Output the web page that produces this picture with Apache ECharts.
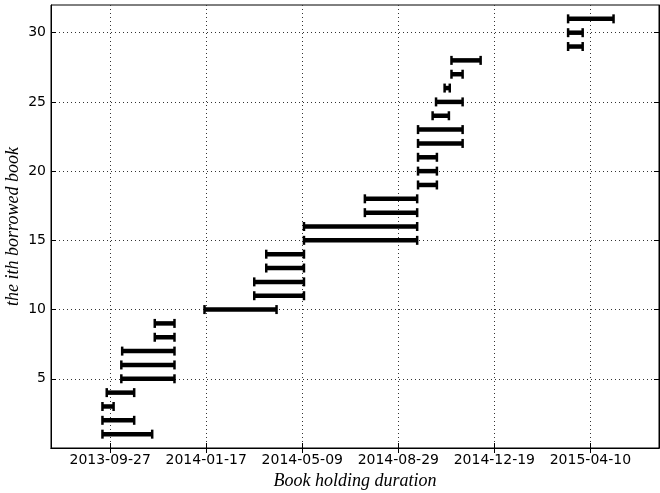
<!DOCTYPE html>
<html>
<head>
<meta charset="utf-8">
<script src="https://cdn.jsdelivr.net/npm/echarts@6/dist/echarts.min.js"></script>
<style>html,body{margin:0;padding:0;background:#fff;}#c{width:660px;height:493px;}</style>
</head>
<body>
<div id="c"></div>
<script>
// Book index (the i-th borrowed book)
const bookIndex = [1,2,3,4,5,6,7,8,9,10,11,12,13,14,15,16,17,18,19,20,21,22,23,24,25,26,27,28,29,30,31];
// Borrow (start) dates
const startDates = [
  '2013-09-18','2013-09-18','2013-09-18','2013-09-23','2013-10-10','2013-10-10','2013-10-11','2013-11-18','2013-11-18','2014-01-15',
  '2014-03-14','2014-03-14','2014-03-28','2014-03-28','2014-05-11','2014-05-11','2014-07-21','2014-07-21','2014-09-21','2014-09-21',
  '2014-09-21','2014-09-21','2014-09-21','2014-10-08','2014-10-12','2014-10-22','2014-10-30','2014-10-30','2015-03-15','2015-03-15',
  '2015-03-15'
];
// Return (end) dates
const endDates = [
  '2013-11-15','2013-10-25','2013-10-01','2013-10-25','2013-12-11','2013-12-11','2013-12-11','2013-12-11','2013-12-11','2014-04-09',
  '2014-05-11','2014-05-11','2014-05-11','2014-05-11','2014-09-20','2014-09-20','2014-09-20','2014-09-20','2014-10-13','2014-10-13',
  '2014-10-13','2014-11-12','2014-11-12','2014-10-27','2014-11-12','2014-10-28','2014-11-12','2014-12-03','2015-04-01','2015-04-01',
  '2015-05-07'
];
// X tick labels
const xTickLabels = ['2013-09-27','2014-01-17','2014-05-09','2014-08-29','2014-12-19','2015-04-10'];
const yTickValues = [5,10,15,20,25,30];
const xMinDate = '2013-07-20';
const xMaxDate = '2015-06-29';

function ts(s){ const p = s.split('-').map(Number); return Date.UTC(p[0], p[1]-1, p[2]); }
function fmt(v){ const d = new Date(v); const m = d.getUTCMonth()+1, dd = d.getUTCDate(); return d.getUTCFullYear()+'-'+(m<10?'0':'')+m+'-'+(dd<10?'0':'')+dd; }

const xTicks = xTickLabels.map(ts);
const data = bookIndex.map((b,i)=>[ts(startDates[i]), ts(endDates[i]), b]);

const chart = echarts.init(document.getElementById('c'), null, {renderer:'canvas'});
const tickFont = {fontFamily:'DejaVu Sans', fontSize:14, color:'#000'};
const gridLine = {show:true, lineStyle:{color:'#333', type:[1,3], width:1}};

chart.setOption({
  animation:false,
  backgroundColor:'#fff',
  grid:{left:51, right:1, top:5, bottom:45, outerBoundsMode:'none', containLabel:false, show:true, borderColor:'#000', borderWidth:1, backgroundColor:'transparent'},
  xAxis:[{
    type:'value', min:ts(xMinDate), max:ts(xMaxDate),
    axisLine:{show:true, lineStyle:{color:'#000', width:1}},
    axisTick:{show:true, inside:true, length:5, customValues:xTicks, lineStyle:{color:'#000'}},
    axisLabel:Object.assign({customValues:xTicks, formatter:(v)=>fmt(v), margin:5}, tickFont),
    splitLine:gridLine,
    name:'Book holding duration', nameLocation:'middle', nameGap:24,
    nameTextStyle:{fontFamily:'Liberation Serif', fontStyle:'italic', fontSize:18, color:'#000'}
  },{
    type:'value', position:'top', min:ts(xMinDate), max:ts(xMaxDate),
    axisLine:{show:true, lineStyle:{color:'#000'}},
    axisTick:{show:true, inside:true, length:5, customValues:xTicks, lineStyle:{color:'#000'}},
    axisLabel:{show:false, customValues:xTicks}, splitLine:{show:false}
  }],
  yAxis:[{
    type:'value', min:0, max:32,
    axisLine:{show:true, lineStyle:{color:'#000'}},
    axisTick:{show:true, inside:true, length:5, customValues:yTickValues, lineStyle:{color:'#000'}},
    axisLabel:Object.assign({customValues:yTickValues, margin:5}, tickFont),
    splitLine:gridLine,
    name:'the ith borrowed book', nameLocation:'middle', nameGap:29, nameMoveOverlap:false,
    nameTextStyle:{fontFamily:'Liberation Serif', fontStyle:'italic', fontSize:18, color:'#000'}
  },{
    type:'value', position:'right', min:0, max:32,
    axisLine:{show:true, lineStyle:{color:'#000'}},
    axisTick:{show:true, inside:true, length:5, customValues:yTickValues, lineStyle:{color:'#000'}},
    axisLabel:{show:false, customValues:yTickValues}, splitLine:{show:false}
  }],
  series:[{
    type:'custom',
    xAxisIndex:0, yAxisIndex:0,
    encode:{x:[0,1], y:2},
    data:data,
    renderItem:function(params, api){
      const p1 = api.coord([api.value(0), api.value(2)]);
      const p2 = api.coord([api.value(1), api.value(2)]);
      const h = 4.5;
      return {type:'group', children:[
        {type:'line', shape:{x1:p1[0], y1:p1[1], x2:p2[0], y2:p2[1]}, style:{stroke:'#000', lineWidth:4.5}},
        {type:'line', shape:{x1:p1[0], y1:p1[1]-h, x2:p1[0], y2:p1[1]+h}, style:{stroke:'#000', lineWidth:2.5}},
        {type:'line', shape:{x1:p2[0], y1:p2[1]-h, x2:p2[0], y2:p2[1]+h}, style:{stroke:'#000', lineWidth:2.5}}
      ]};
    }
  }]
});
</script>
</body>
</html>
